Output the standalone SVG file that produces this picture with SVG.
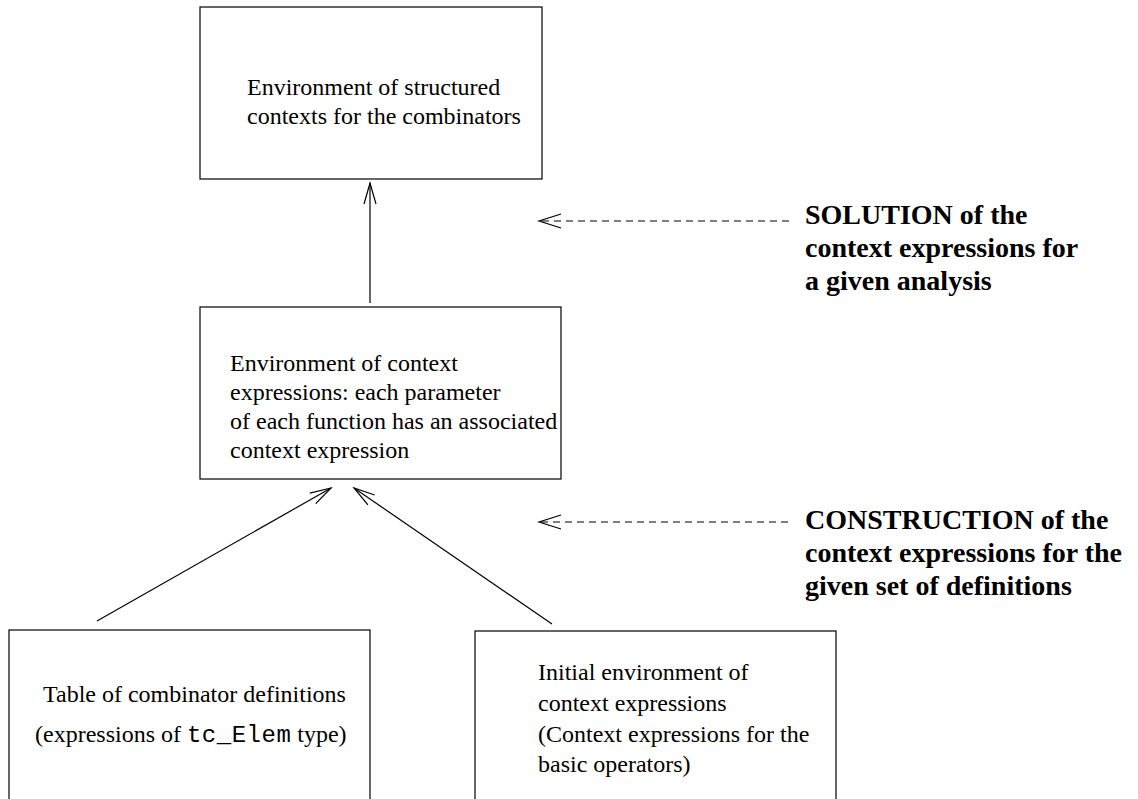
<svg xmlns="http://www.w3.org/2000/svg" width="1138" height="799" viewBox="0 0 1138 799">
<defs>
<style>
.box{fill:#fff;stroke:#000;stroke-width:1.2}
.t{font-family:"Liberation Serif","Times New Roman",serif;font-size:24px;fill:#000}
.b{font-family:"Liberation Serif","Times New Roman",serif;font-size:28px;font-weight:bold;fill:#000}
.m{font-family:"Liberation Mono","Courier New",monospace;font-size:24px;letter-spacing:0.5px}
.ln{stroke:#000;stroke-width:1.2;fill:none}
.ds{stroke:#000;stroke-width:1.2;fill:none;stroke-dasharray:7 5}
</style>
<marker id="ah" markerWidth="24" markerHeight="14" refX="22" refY="7" orient="auto" markerUnits="userSpaceOnUse">
<path d="M1,1 L22,7 L1,13" fill="none" stroke="#000" stroke-width="1.2"/>
</marker>
</defs>
<rect width="1138" height="799" fill="#fff"/>
<g id="connectors">
<line class="ln" x1="370" y1="303" x2="370" y2="183" marker-end="url(#ah)"/>
<line class="ln" x1="97" y1="621" x2="331" y2="488" marker-end="url(#ah)"/>
<line class="ln" x1="552" y1="624" x2="354" y2="488" marker-end="url(#ah)"/>
<line class="ds" x1="789" y1="221" x2="541" y2="221"/>
<path class="ln" d="M561,214 L539,221 L561,228"/>
<line class="ds" x1="788" y1="522" x2="541" y2="522"/>
<path class="ln" d="M561,515 L539,522 L561,529"/>
</g>
<g id="node-structured">
<rect class="box" x="200" y="7" width="342" height="172"/>
<text class="t" x="247" y="95">Environment of structured</text>
<text class="t" x="247" y="124">contexts for the combinators</text>
</g>
<g id="node-context-env">
<rect class="box" x="200" y="307" width="361" height="172"/>
<text class="t" x="230" y="371">Environment of context</text>
<text class="t" x="230" y="400">expressions: each parameter</text>
<text class="t" x="230" y="429">of each function has an associated</text>
<text class="t" x="230" y="458">context expression</text>
</g>
<g id="node-table">
<rect class="box" x="9" y="630" width="361" height="200"/>
<text class="t" x="43" y="702">Table of combinator definitions</text>
<text class="t" x="35" y="742" xml:space="preserve">(expressions of <tspan class="m">tc_Elem</tspan> type)</text>
</g>
<g id="node-initial">
<rect class="box" x="475" y="631" width="361" height="200"/>
<text class="t" x="538" y="680">Initial environment of</text>
<text class="t" x="538" y="711">context expressions</text>
<text class="t" x="538" y="742">(Context expressions for the</text>
<text class="t" x="538" y="772">basic operators)</text>
</g>
<g id="note-solution">
<text class="b" x="805" y="224">SOLUTION of the</text>
<text class="b" x="805" y="257">context expressions for</text>
<text class="b" x="805" y="290">a given analysis</text>
</g>
<g id="note-construction">
<text class="b" x="805" y="529">CONSTRUCTION of the</text>
<text class="b" x="805" y="562">context expressions for the</text>
<text class="b" x="805" y="595">given set of definitions</text>
</g>
</svg>
